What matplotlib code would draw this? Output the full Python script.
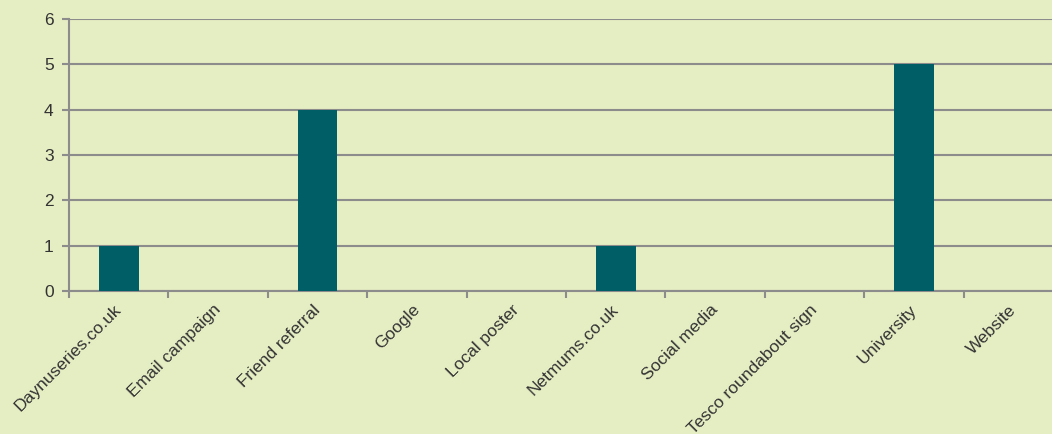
import matplotlib
matplotlib.use("Agg")
import matplotlib.pyplot as plt
from matplotlib.ticker import FixedLocator

plt.rcParams['font.family'] = ['Liberation Sans', 'DejaVu Sans']

# Data
sources = ["Daynuseries.co.uk", "Email campaign", "Friend referral", "Google",
           "Local poster", "Netmums.co.uk", "Social media",
           "Tesco roundabout sign", "University", "Website"]
counts = [1, 0, 4, 0, 0, 1, 0, 0, 5, 0]
y_ticks = [0, 1, 2, 3, 4, 5, 6]

bg = "#E5EDC3"
bar_color = "#005F66"
grid_color = "#8C8C8C"
text_color = "#333333"

fig = plt.figure(figsize=(10.52, 4.34), dpi=100, facecolor=bg)
ax = fig.add_axes([0.0656, 0.3295, 0.945, 0.6267])
ax.set_facecolor(bg)

x = list(range(len(sources)))
ax.bar(x, counts, width=0.4, color=bar_color, zorder=3)

ax.set_xlim(-0.5, len(sources) - 0.5)
ax.set_ylim(0, 6)
ax.set_yticks(y_ticks)
ax.yaxis.grid(True, color=grid_color, linewidth=1.5, zorder=1)

# label anchors sit a touch left of the bar centres, like the original
ax.set_xticks([i - 0.05 for i in x])
ax.set_xticklabels(sources, rotation=45, ha="right", rotation_mode="anchor",
                   fontsize=12.5, color=text_color)

ax.xaxis.set_minor_locator(FixedLocator([i - 0.5 for i in range(len(sources) + 1)]))
ax.tick_params(axis="x", which="major", length=0, pad=8)
ax.tick_params(axis="x", which="minor", length=5, width=1.5, color=grid_color)
ax.tick_params(axis="y", length=5, width=1.5, color=grid_color,
               labelsize=12.5, labelcolor=text_color, pad=6)

for side in ["top", "right"]:
    ax.spines[side].set_visible(False)
for side in ["left", "bottom"]:
    ax.spines[side].set_color(grid_color)
    ax.spines[side].set_linewidth(1.5)

fig.savefig("out.png", dpi=100, facecolor=bg)
